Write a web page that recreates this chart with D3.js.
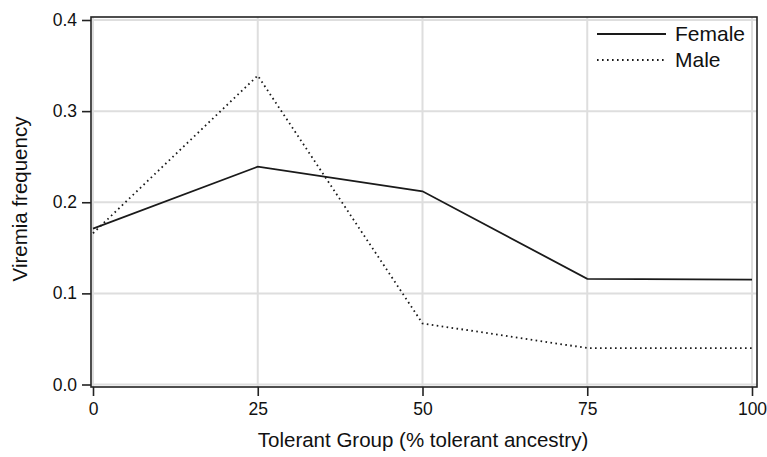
<!DOCTYPE html>
<html>
<head>
<meta charset="utf-8">
<script src="https://cdn.jsdelivr.net/npm/d3@7"></script>
<style>
  body { margin: 0; background: #fff; }
  svg { display: block; font-family: "Liberation Sans", Arial, sans-serif; }
</style>
</head>
<body>
<svg id="chart" width="767" height="457"></svg>
<script>
const groups = [0, 25, 50, 75, 100];
const female = [0.171, 0.239, 0.212, 0.116, 0.115];
const male = [0.166, 0.339, 0.067, 0.040, 0.040];
const xTicks = [0, 25, 50, 75, 100];
const yTicks = [0.0, 0.1, 0.2, 0.3, 0.4];
const seriesNames = ["Female", "Male"];

const svg = d3.select("#chart");
const frame = { left: 91, right: 757, top: 17, bottom: 387 };
const x = d3.scaleLinear().domain([0, 100]).range([93, 752]);
const y = d3.scaleLinear().domain([0, 0.4]).range([384.5, 20]);

// gridlines
svg.append("g").selectAll("line.v").data(xTicks).join("line")
  .attr("x1", d => x(d)).attr("x2", d => x(d))
  .attr("y1", frame.top).attr("y2", frame.bottom)
  .attr("stroke", "#dedede").attr("stroke-width", 2);
svg.append("g").selectAll("line.h").data(yTicks).join("line")
  .attr("x1", frame.left).attr("x2", frame.right)
  .attr("y1", d => y(d)).attr("y2", d => y(d))
  .attr("stroke", "#dedede").attr("stroke-width", 2);

// frame
svg.append("rect")
  .attr("x", frame.left).attr("y", frame.top)
  .attr("width", frame.right - frame.left).attr("height", frame.bottom - frame.top)
  .attr("fill", "none").attr("stroke", "#222").attr("stroke-width", 1.6);

// axes
const xAxis = d3.axisBottom(x).tickValues(xTicks).tickSize(9).tickPadding(7).tickFormat(d3.format("d"));
const gx = svg.append("g").attr("transform", `translate(0,${frame.bottom})`).call(xAxis);
const yAxis = d3.axisLeft(y).tickValues(yTicks).tickSize(9).tickPadding(5).tickFormat(d3.format(".1f"));
const gy = svg.append("g").attr("transform", `translate(${frame.left},0)`).call(yAxis);
[gx, gy].forEach(g => {
  g.select(".domain").remove();
  g.selectAll(".tick line").attr("stroke", "#222").attr("stroke-width", 1.6);
  g.selectAll(".tick text").attr("fill", "#111").style("font-size", "17.5px").style("font-family", "'Liberation Sans', Arial, sans-serif");
});

// lines
const line = d3.line().x((d, i) => x(groups[i])).y(d => y(d));
svg.append("path").datum(female).attr("d", line)
  .attr("fill", "none").attr("stroke", "#1a1a1a").attr("stroke-width", 1.8);
svg.append("path").datum(male).attr("d", line)
  .attr("fill", "none").attr("stroke", "#1a1a1a").attr("stroke-width", 1.8)
  .attr("stroke-dasharray", "1.6,3.4");

// legend
const leg = svg.append("g");
const legY = [34, 60];
seriesNames.forEach((name, i) => {
  leg.append("line").attr("x1", 597).attr("x2", 666).attr("y1", legY[i]).attr("y2", legY[i])
    .attr("stroke", "#1a1a1a").attr("stroke-width", 1.8)
    .attr("stroke-dasharray", i === 1 ? "1.6,3.4" : null);
  leg.append("text").attr("x", 675).attr("y", legY[i] + 7)
    .style("font-size", "21px").attr("fill", "#111").text(name);
});

// axis titles
svg.append("text").attr("x", 423).attr("y", 447).attr("text-anchor", "middle")
  .style("font-size", "20.5px").attr("fill", "#111").text("Tolerant Group (% tolerant ancestry)");
svg.append("text").attr("transform", "translate(27,199) rotate(-90)").attr("text-anchor", "middle")
  .style("font-size", "20.5px").attr("fill", "#111").text("Viremia frequency");
</script>
</body>
</html>
